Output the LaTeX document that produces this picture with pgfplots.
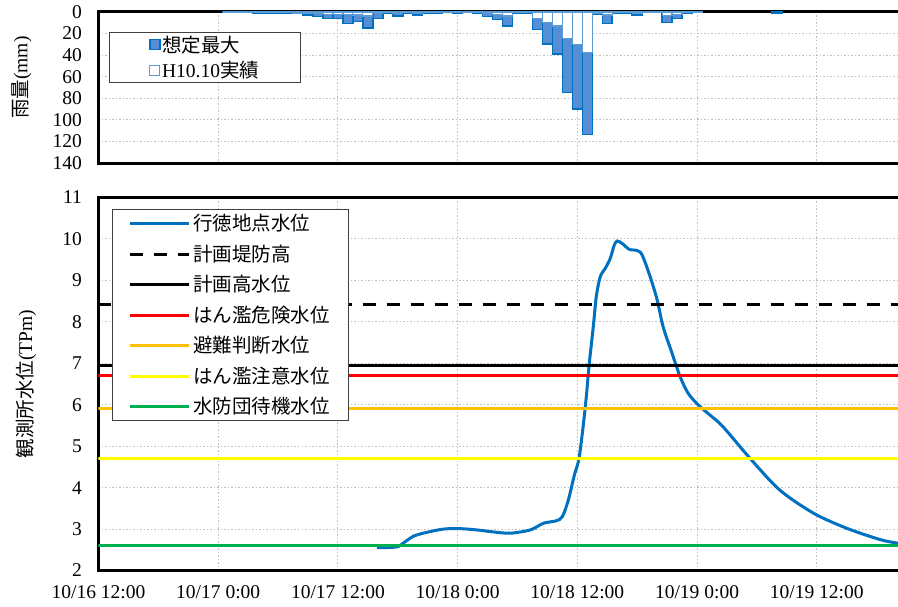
\documentclass[border=0pt]{standalone}
\usepackage{fontspec}
\setmainfont{Liberation Serif}
\newfontfamily\cjk{Noto Sans CJK JP}
\usepackage{pgfplots}
\pgfplotsset{compat=1.18}

\definecolor{wlblue}{RGB}{0,112,192}
\definecolor{barfill}{RGB}{85,142,213}
\definecolor{barline}{RGB}{0,112,192}
\definecolor{wbarline}{RGB}{91,155,213}
\definecolor{lvred}{RGB}{255,0,0}
\definecolor{lvorange}{RGB}{255,192,0}
\definecolor{lvyellow}{RGB}{255,255,0}
\definecolor{lvgreen}{RGB}{0,176,80}
\definecolor{gridgray}{RGB}{191,191,191}

\pgfplotsset{
  base/.style={
    scale only axis, width=818pt,
    xmin=0, xmax=82, xtick={0,12,...,72},
    grid=major,
    grid style={gridgray, line width=1pt, dash pattern=on 1.5pt off 2pt},
    axis line style={line width=3pt},
    tick style={draw=none},
    tick label style={font=\fontsize{19.5}{23}\selectfont},
    /pgf/number format/assume math mode=true,
    yticklabel style={xshift=-13pt},
    label style={font=\fontsize{19.5}{23}\selectfont},
  },
}

\begin{document}
\begin{tikzpicture}
% water level
\begin{axis}[base, height=373pt,
  ymin=2, ymax=11, ytick={2,...,11},
  xticklabels={10/16 12:00,10/17 0:00,10/17 12:00,10/18 0:00,10/18 12:00,10/19 0:00,10/19 12:00},
  xticklabel style={yshift=-11pt},
  ylabel={{\cjk 観測所水位}(TPm)},
  ylabel style={at={(axis description cs:-0.0886,0.5)}, anchor=center},
  legend cell align=left,
  legend image code/.code={\draw[#1] (0pt,0pt) -- (59pt,0pt);},
  legend style={at={(axis cs:1.4,10.726)}, anchor=north west,
    draw=black!75, line width=0.8pt,
    font=\fontsize{19.5}{23}\selectfont,
    inner xsep=15.5pt, inner ysep=4.3pt, row sep=10.6pt,
    nodes={inner ysep=1pt, inner xsep=3pt}},
]
\addplot[wlblue, line width=3pt, smooth, tension=0.5] coordinates {
  (27.9,2.55) (29.9,2.57) (30.6,2.67) (31.6,2.83) (32.9,2.92) (34.6,3.00)
  (36.2,3.01) (37.9,2.98) (39.6,2.93) (41.3,2.90) (43.3,2.98) (44.6,3.14)
  (45.9,3.20) (46.5,3.30) (47.1,3.70) (47.7,4.30) (48.2,4.75) (48.8,5.95)
  (49.2,7.00) (49.6,7.88) (49.9,8.61) (50.3,9.09) (50.8,9.29) (51.3,9.53)
  (51.7,9.85) (52.0,9.95) (52.5,9.89) (53.2,9.75) (54.0,9.72) (54.5,9.61)
  (55.3,9.09) (56.0,8.53) (56.6,7.88) (57.5,7.24) (58.3,6.68) (59.1,6.28)
  (60.1,6.00) (61.3,5.75) (62.6,5.47) (65.3,4.71) (68.3,3.94) (71.7,3.38)
  (75.0,3.02) (78.3,2.75) (80.1,2.66) (82.0,2.60)
};
\addlegendentry{\cjk 行徳地点水位}
\addplot[black, line width=3pt, dash pattern=on 13pt off 11pt] coordinates {(0,8.43) (82,8.43)};
\addlegendentry{\cjk 計画堤防高}
\addplot[black, line width=3pt] coordinates {(0,6.94) (82,6.94)};
\addlegendentry{\cjk 計画高水位}
\addplot[lvred, line width=3pt] coordinates {(0,6.7) (82,6.7)};
\addlegendentry{\cjk はん濫危険水位}
\addplot[lvorange, line width=3pt] coordinates {(0,5.9) (82,5.9)};
\addlegendentry{\cjk 避難判断水位}
\addplot[lvyellow, line width=3pt] coordinates {(0,4.7) (82,4.7)};
\addlegendentry{\cjk はん濫注意水位}
\addplot[lvgreen, line width=3pt] coordinates {(0,2.6) (82,2.6)};
\addlegendentry{\cjk 水防団待機水位}
\end{axis}

% rainfall
\begin{axis}[base, at={(0pt,407.5pt)}, anchor=south west, height=151pt,
  y dir=reverse, ymin=0, ymax=140, ytick={0,20,...,140},
  xticklabels={},
  ylabel={{\cjk 雨量}(mm)},
  ylabel style={at={(axis description cs:-0.0939,0.566)}, anchor=center},
  legend cell align=left,
  legend image code/.code={\draw[#1] (0pt,-5pt) rectangle (10pt,5pt);},
  legend style={at={(axis cs:1.02,18.5)}, anchor=north west,
    draw=black!75, line width=0.8pt,
    font=\fontsize{19.5}{23}\selectfont,
    inner xsep=40pt, inner ysep=2.3pt, row sep=5.9pt,
    nodes={inner ysep=1pt, inner xsep=1.5pt}},
]
\addplot[ybar, bar width=1, bar shift=0pt, fill=barfill, draw=barline, line width=1.5pt] coordinates {
  (13,0.5) (14,0.5) (15,0.5) (16,1) (17,1) (18,1) (19,1.5) (20,1.5)
  (21,2.8) (22,4.3) (23,5.8) (24,5.8) (25,10.5) (26,9) (27,15) (28,5.8)
  (29,1.5) (30,3.5) (31,1) (32,3) (33,1) (34,1.5) (35,0.5) (36,1.5)
  (37,0.5) (38,1) (39,4.3) (40,6.8) (41,12.9) (42,1.5) (43,1.5) (44,16)
  (45,29.8) (46,39) (47,74.5) (48,89.8) (49,113.8) (50,2) (51,10.5) (52,1)
  (53,1) (54,3) (55,0.5) (56,0.5) (57,9.8) (58,5.8) (59,1.5) (60,0.5)
  (68,1)
};
\addlegendentry{\cjk 想定最大}
\addplot[ybar, bar width=1, bar shift=0pt, fill=white, draw=wbarline, line width=1.2pt] coordinates {
  (13,0.3) (14,0.3) (15,0.3) (16,0.5) (17,0.5) (18,0.5) (19,0.5) (20,1)
  (21,1) (22,1.5) (23,2.5) (24,2) (25,2.5) (26,2.8) (27,3.7) (28,1.5)
  (29,0.5) (30,1) (31,0.5) (32,1) (33,0.5) (34,0.5) (35,0.3) (36,0.5)
  (37,0.3) (38,0.5) (39,1.5) (40,2) (41,3.7) (42,0.5) (43,0.5) (44,5.8)
  (45,9.8) (46,12.9) (47,24.3) (48,29.8) (49,37.5) (50,1) (51,2.8) (52,0.5)
  (53,0.5) (54,1) (55,0.3) (56,0.3) (57,3) (58,2.5) (59,0.5) (60,0.3)
};
\addlegendentry{H10.10{\cjk 実績}}
\end{axis}

\pgfresetboundingbox
\useasboundingbox (-98.5pt,-35.5pt) rectangle (799.5pt,570.5pt);
\end{tikzpicture}
\end{document}
